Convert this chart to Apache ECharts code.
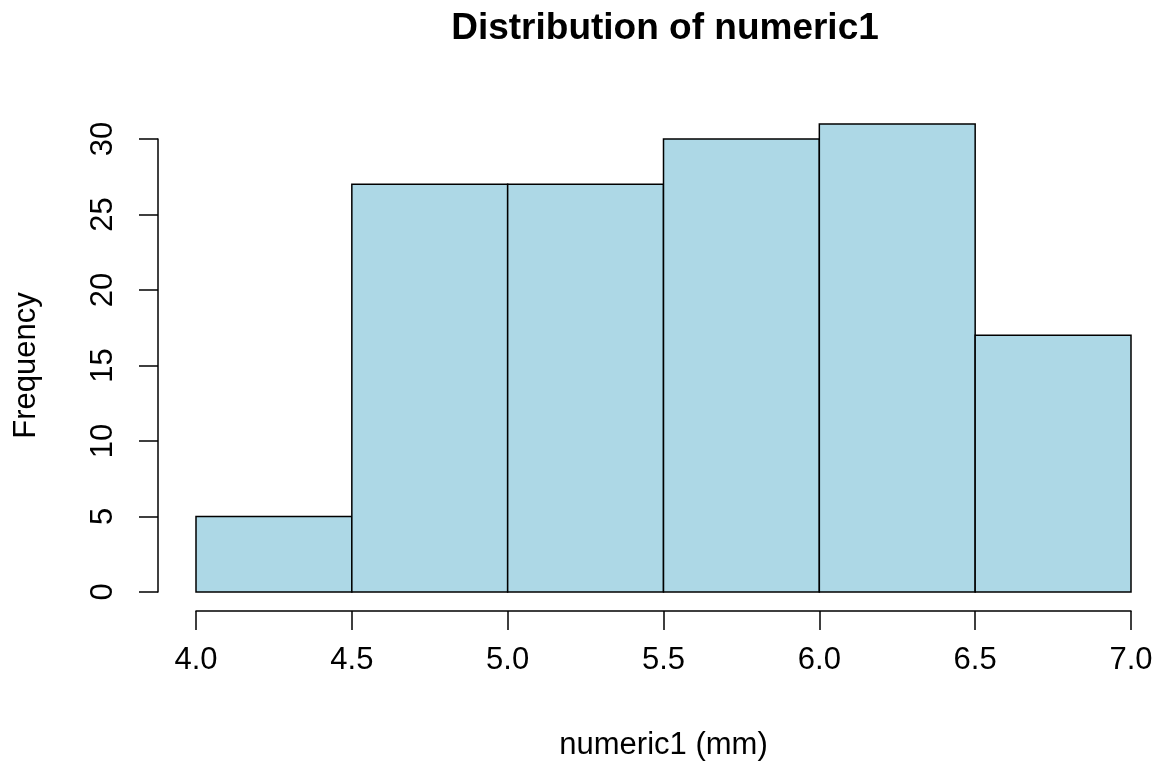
<!DOCTYPE html>
<html>
<head>
<meta charset="utf-8">
<style>
  html, body { margin: 0; padding: 0; background: #ffffff; }
  #chart { width: 1158px; height: 766px; }
</style>
<script src="https://cdn.jsdelivr.net/npm/echarts@6/dist/echarts.min.js"></script>
</head>
<body>
<div id="chart"></div>
<script>
// Histogram bins (mm) and their counts
const binStarts = [4.0, 4.5, 5.0, 5.5, 6.0, 6.5];
const binEnds   = [4.5, 5.0, 5.5, 6.0, 6.5, 7.0];
const counts    = [5, 27, 27, 30, 31, 17];
const xTicks    = [4.0, 4.5, 5.0, 5.5, 6.0, 6.5, 7.0];
const yTicks    = [0, 5, 10, 15, 20, 25, 30];

const FONT = '"Liberation Sans", Arial, Helvetica, sans-serif';

const chart = echarts.init(document.getElementById('chart'), null, { renderer: 'canvas' });

const binData = binStarts.map((s, i) => [s, binEnds[i], counts[i]]);

chart.setOption({
  backgroundColor: '#ffffff',
  animation: false,
  title: {
    text: 'Distribution of numeric1',
    left: 660,
    textAlign: 'center',
    top: 5,
    textStyle: { fontFamily: FONT, fontSize: 37, fontWeight: 'bold', color: '#000' }
  },
  grid: { left: 196, right: 27, top: 139, bottom: 171, containLabel: false },
  xAxis: {
    type: 'value',
    min: xTicks[0],
    max: xTicks[xTicks.length - 1],
    interval: 0.5,
    offset: 19,
    name: 'numeric1 (mm)',
    nameLocation: 'middle',
    nameGap: 119,
    nameTextStyle: { fontFamily: FONT, fontSize: 31, color: '#000' },
    axisLine: { show: true, onZero: false, lineStyle: { color: '#000', width: 1.5 } },
    axisTick: { show: true, length: 19, lineStyle: { color: '#000', width: 1.5 } },
    axisLabel: {
      fontFamily: FONT, fontSize: 31, color: '#000', margin: 34,
      formatter: v => v.toFixed(1),
      showMinLabel: true, showMaxLabel: true
    },
    splitLine: { show: false }
  },
  yAxis: {
    type: 'value',
    min: yTicks[0],
    max: yTicks[yTicks.length - 1],
    interval: 5,
    offset: 38,
    name: 'Frequency',
    nameLocation: 'middle',
    nameGap: 116,
    nameTextStyle: { fontFamily: FONT, fontSize: 31, color: '#000' },
    axisLine: { show: true, onZero: false, lineStyle: { color: '#000', width: 1.5 } },
    axisTick: { show: true, length: 19, lineStyle: { color: '#000', width: 1.5 } },
    axisLabel: {
      fontFamily: FONT, fontSize: 31, color: '#000', margin: 39, rotate: 90,
      showMinLabel: true, showMaxLabel: true
    },
    splitLine: { show: false }
  },
  series: [{
    type: 'custom',
    clip: false,
    data: binData,
    encode: { x: [0, 1], y: 2 },
    renderItem: function (params, api) {
      const p0 = api.coord([api.value(0), 0]);
      const p1 = api.coord([api.value(1), api.value(2)]);
      return {
        type: 'rect',
        shape: { x: p0[0], y: p1[1], width: p1[0] - p0[0], height: p0[1] - p1[1] },
        style: { fill: '#ADD8E6', stroke: '#000', lineWidth: 1.5 }
      };
    }
  }]
});
</script>
</body>
</html>
